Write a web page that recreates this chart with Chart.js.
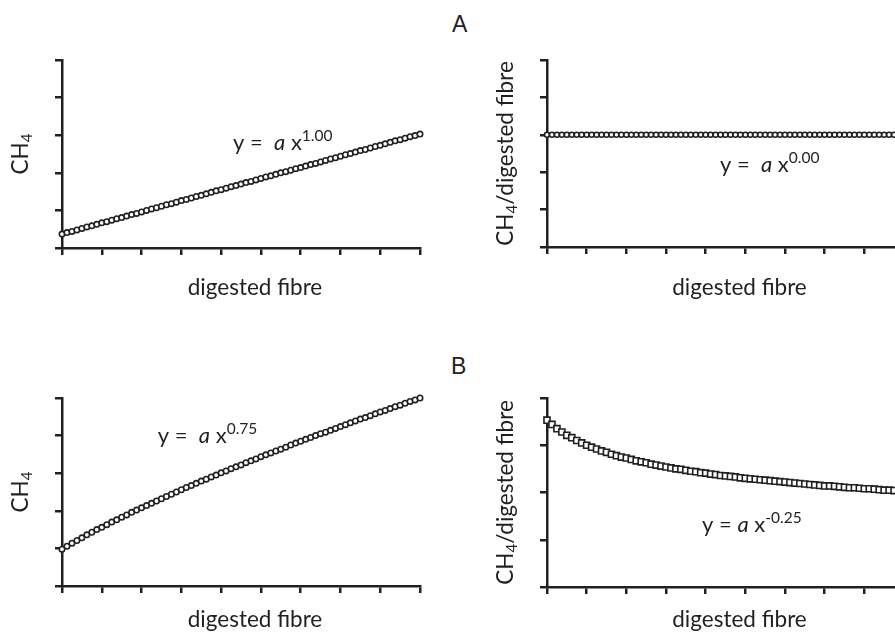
<!DOCTYPE html>
<html>
<head>
<meta charset="utf-8">
<script src="https://cdn.jsdelivr.net/npm/chart.js@4.4.1/dist/chart.umd.min.js"></script>
<style>
  html, body { margin: 0; padding: 0; background: #fff; overflow: hidden; width: 895px; height: 637px; }
  .panel { position: absolute; }
  .tag { position: absolute; font-family: "Liberation Sans", Arial, sans-serif; font-size: 23px; color: #231f20; line-height: 1; }
</style>
</head>
<body>
<div class="tag" style="left:452px; top:13px;">A</div>
<div class="tag" style="left:451px; top:355px;">B</div>
<div class="panel" style="left:0; top:45px;"><canvas id="chart-a-left" width="440" height="265"></canvas></div>
<div class="panel" style="left:440px; top:45px;"><canvas id="chart-a-right" width="480" height="265"></canvas></div>
<div class="panel" style="left:0; top:385px;"><canvas id="chart-b-left" width="440" height="252"></canvas></div>
<div class="panel" style="left:440px; top:385px;"><canvas id="chart-b-right" width="480" height="252"></canvas></div>
<script>
/* ==========================================
   CH4 vs digested fibre - four panels (A, B)
   ========================================== */

// digested fibre (x axis, arbitrary units 0-9)
const fibre = [
    0, 0.125, 0.25, 0.375, 0.5, 0.625, 0.75, 0.875,
    1, 1.125, 1.25, 1.375, 1.5, 1.625, 1.75, 1.875,
    2, 2.125, 2.25, 2.375, 2.5, 2.625, 2.75, 2.875,
    3, 3.125, 3.25, 3.375, 3.5, 3.625, 3.75, 3.875,
    4, 4.125, 4.25, 4.375, 4.5, 4.625, 4.75, 4.875,
    5, 5.125, 5.25, 5.375, 5.5, 5.625, 5.75, 5.875,
    6, 6.125, 6.25, 6.375, 6.5, 6.625, 6.75, 6.875,
    7, 7.125, 7.25, 7.375, 7.5, 7.625, 7.75, 7.875,
    8, 8.125, 8.25, 8.375, 8.5, 8.625, 8.75, 8.875,
    9
];

// A left: CH4, exponent 1.00
const ch4Linear = [
    0.37, 0.41, 0.44, 0.48, 0.52, 0.56, 0.59, 0.63, 0.67, 0.70,
    0.74, 0.78, 0.81, 0.85, 0.89, 0.92, 0.96, 1.00, 1.04, 1.07,
    1.11, 1.15, 1.18, 1.22, 1.26, 1.29, 1.33, 1.37, 1.40, 1.44,
    1.48, 1.52, 1.55, 1.59, 1.63, 1.66, 1.70, 1.74, 1.77, 1.81,
    1.85, 1.89, 1.92, 1.96, 2.00, 2.03, 2.07, 2.11, 2.14, 2.18,
    2.22, 2.25, 2.29, 2.33, 2.37, 2.40, 2.44, 2.48, 2.51, 2.55,
    2.59, 2.62, 2.66, 2.70, 2.73, 2.77, 2.81, 2.85, 2.88, 2.92,
    2.96, 2.99, 3.03
];

// A right: CH4/digested fibre, exponent 0.00
const ratioFlat = [
    3, 3, 3, 3, 3, 3, 3, 3, 3, 3,
    3, 3, 3, 3, 3, 3, 3, 3, 3, 3,
    3, 3, 3, 3, 3, 3, 3, 3, 3, 3,
    3, 3, 3, 3, 3, 3, 3, 3, 3, 3,
    3, 3, 3, 3, 3, 3, 3, 3, 3, 3,
    3, 3, 3, 3, 3, 3, 3, 3, 3, 3,
    3, 3, 3, 3, 3, 3, 3, 3, 3, 3,
    3, 3, 3
];

// B left: CH4, exponent 0.75
const ch4Power = [
    0.98, 1.06, 1.14, 1.21, 1.28, 1.36, 1.43, 1.50, 1.56, 1.63,
    1.70, 1.76, 1.83, 1.89, 1.96, 2.02, 2.08, 2.14, 2.20, 2.26,
    2.32, 2.38, 2.44, 2.50, 2.56, 2.62, 2.67, 2.73, 2.79, 2.84,
    2.90, 2.95, 3.01, 3.06, 3.12, 3.17, 3.22, 3.28, 3.33, 3.38,
    3.44, 3.49, 3.54, 3.59, 3.64, 3.69, 3.75, 3.80, 3.85, 3.90,
    3.95, 4.00, 4.05, 4.09, 4.14, 4.19, 4.24, 4.29, 4.34, 4.39,
    4.44, 4.48, 4.53, 4.58, 4.63, 4.67, 4.72, 4.77, 4.81, 4.86,
    4.91, 4.95, 5.00
];

// B right: CH4/digested fibre, exponent -0.25
const ratioPower = [
    3.53, 3.44, 3.35, 3.28, 3.21, 3.16, 3.10, 3.05, 3.00, 2.96,
    2.92, 2.88, 2.85, 2.81, 2.78, 2.75, 2.73, 2.70, 2.67, 2.65,
    2.63, 2.60, 2.58, 2.56, 2.54, 2.52, 2.50, 2.49, 2.47, 2.45,
    2.44, 2.42, 2.41, 2.39, 2.38, 2.36, 2.35, 2.34, 2.33, 2.31,
    2.30, 2.29, 2.28, 2.27, 2.26, 2.25, 2.24, 2.23, 2.22, 2.21,
    2.20, 2.19, 2.18, 2.17, 2.16, 2.15, 2.14, 2.14, 2.13, 2.12,
    2.11, 2.10, 2.10, 2.09, 2.08, 2.08, 2.07, 2.06, 2.05, 2.05,
    2.04, 2.04, 2.03
];

const xAxisMax = 9;
const xTitle = 'digested fibre';

const INK = '#231f20';
const FONT = 'Lato, "Open Sans", sans-serif';

function toPoints(ys) {
    return fibre.map((x, i) => ({ x: x, y: ys[i] }));
}

function setFont(ctx, p) {
    ctx.font = (p.italic ? 'italic ' : '') + p.size + 'px ' + FONT;
}

function richWidth(ctx, parts) {
    let w = 0;
    parts.forEach(p => { setFont(ctx, p); w += ctx.measureText(p.t).width; });
    return w;
}

function drawRich(ctx, parts, x, y) {
    let cx = x;
    parts.forEach(p => {
        setFont(ctx, p);
        ctx.fillText(p.t, cx, y - (p.rise || 0));
        cx += ctx.measureText(p.t).width;
    });
}

// titles and the fitted equation, drawn on top of each panel
const panelText = {
    id: 'panelText',
    afterDatasetsDraw(chart, args, opts) {
        const { ctx, chartArea, scales } = chart;
        ctx.save();
        ctx.fillStyle = INK;
        ctx.textBaseline = 'alphabetic';

        const xt = [{ t: xTitle, size: 22.5 }];
        const xw = richWidth(ctx, xt);
        drawRich(ctx, xt, (chartArea.left + chartArea.right) / 2 + 14 - xw / 2, chartArea.bottom + opts.xTitleGap);

        ctx.save();
        ctx.translate(chartArea.left - 34, (chartArea.top + chartArea.bottom) / 2);
        ctx.rotate(-Math.PI / 2);
        const yw = richWidth(ctx, opts.yTitle);
        drawRich(ctx, opts.yTitle, -yw / 2, 0);
        ctx.restore();

        const fx = scales.x.getPixelForValue(opts.formulaAt[0]);
        const fy = scales.y.getPixelForValue(opts.formulaAt[1]);
        drawRich(ctx, [
            { t: opts.gap ? 'y =  ' : 'y = ', size: 22 },
            { t: 'a', size: 22, italic: true },
            { t: ' x', size: 22 },
            { t: opts.exponent, size: 15.5, rise: 9 }
        ], fx, fy);
        ctx.restore();
    }
};

const ch4Title = [{ t: 'CH', size: 22.5 }, { t: '4', size: 15, rise: -4 }];
const ratioTitle = [{ t: 'CH', size: 22.5 }, { t: '4', size: 15, rise: -4 }, { t: '/digested fibre', size: 22.5 }];

function montarPainel(id, values, cfg) {
    const ctx = document.getElementById(id).getContext('2d');
    return new Chart(ctx, {
        type: 'scatter',
        data: {
            datasets: [{
                data: toPoints(values),
                pointStyle: cfg.marker,
                pointRadius: cfg.radius,
                pointBackgroundColor: '#ffffff',
                pointBorderColor: INK,
                pointBorderWidth: 1.6,
                clip: false
            }]
        },
        options: {
            responsive: false,
            animation: false,
            layout: { padding: { left: 0, top: cfg.padTop, right: cfg.padRight, bottom: 0 } },
            plugins: {
                legend: { display: false },
                tooltip: { enabled: false },
                panelText: cfg.text
            },
            scales: {
                x: {
                    type: 'linear', min: 0, max: xAxisMax,
                    ticks: { stepSize: 1, display: false },
                    grid: { drawOnChartArea: false, drawTicks: true, tickLength: 7, color: INK, lineWidth: 2.5 },
                    border: { color: INK, width: 2.5 },
                    afterFit: s => { s.height = cfg.xHeight; }
                },
                y: {
                    type: 'linear', min: 0, max: cfg.yMax,
                    ticks: { stepSize: 1, display: false },
                    grid: { drawOnChartArea: false, drawTicks: true, tickLength: 7, color: INK, lineWidth: 2.5 },
                    border: { color: INK, width: 2.5 },
                    afterFit: s => { s.width = cfg.yWidth; }
                }
            }
        },
        plugins: [panelText]
    });
}

montarPainel('chart-a-left', ch4Linear, {
    marker: 'circle', radius: 2.7, yMax: 5,
    padTop: 15, padRight: 20, xHeight: 62, yWidth: 62,
    text: { yTitle: ch4Title, xTitleGap: 47, formulaAt: [4.3, 2.61], exponent: '1.00', gap: true }
});

montarPainel('chart-a-right', ratioFlat, {
    marker: 'circle', radius: 2.5, yMax: 5,
    padTop: 15, padRight: 16, xHeight: 63, yWidth: 107,
    text: { yTitle: ratioTitle, xTitleGap: 48, formulaAt: [4.36, 2.0], exponent: '0.00', gap: true }
});

montarPainel('chart-b-left', ch4Power, {
    marker: 'circle', radius: 2.7, yMax: 5,
    padTop: 13, padRight: 20, xHeight: 51, yWidth: 62,
    text: { yTitle: ch4Title, xTitleGap: 41, formulaAt: [2.41, 3.8], exponent: '0.75', gap: true }
});

montarPainel('chart-b-right', ratioPower, {
    marker: 'rect', radius: 4.3, yMax: 4,
    padTop: 13, padRight: 16, xHeight: 50, yWidth: 107,
    text: { yTitle: ratioTitle, xTitleGap: 40, formulaAt: [3.91, 1.16], exponent: '-0.25', gap: false }
});
</script>
</body>
</html>
